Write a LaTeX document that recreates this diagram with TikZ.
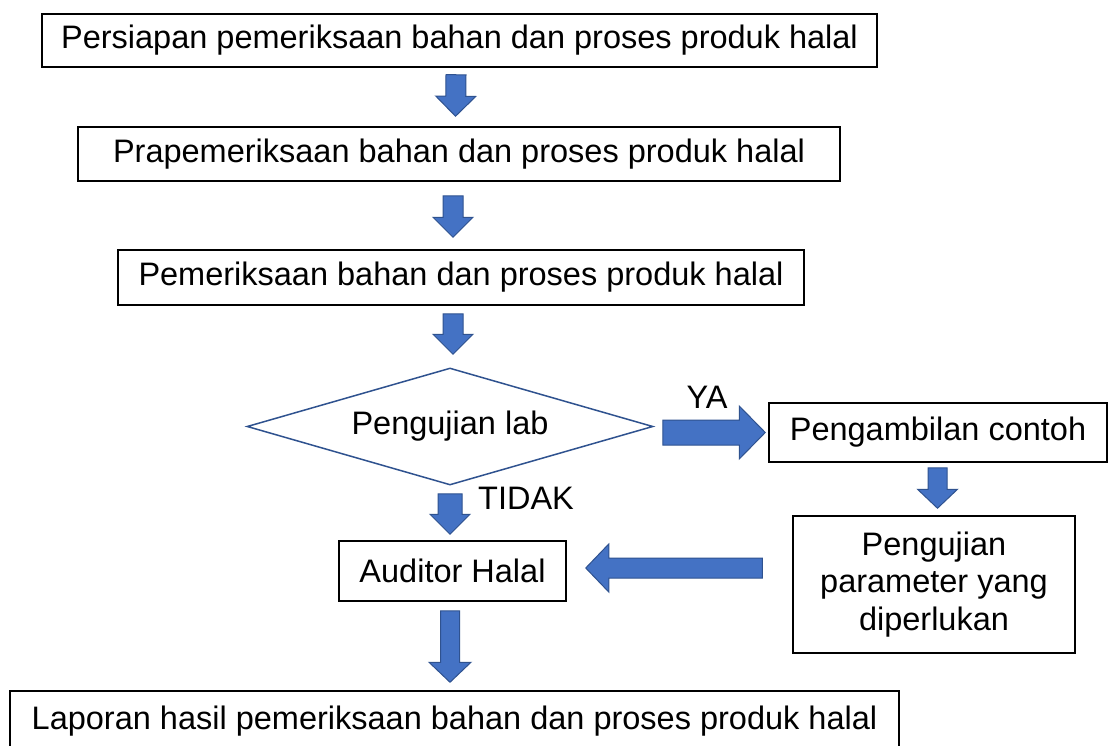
\documentclass[tikz,border=0pt]{standalone}
\usepackage{fontspec}
\setmainfont{Liberation Sans}
\usetikzlibrary{shapes.geometric,calc}
\definecolor{afill}{HTML}{4472C4}
\definecolor{aline}{HTML}{2F528F}
\newcommand\barrow[5]{% #1 tail, #2 tip, #3 shaft half width, #4 head half width, #5 head length
  \draw[blockarrow] ($(#1)!#3!90:(#2)$) -- ($(#2)!#5!(#1)!#3!90:(#2)$) -- ($(#2)!#5!(#1)!#4!90:(#2)$) -- (#2)
    -- ($(#2)!#5!(#1)!#4!-90:(#2)$) -- ($(#2)!#5!(#1)!#3!-90:(#2)$) -- ($(#1)!#3!-90:(#2)$) -- cycle;}
\begin{document}
\begin{tikzpicture}[x=1pt,y=-1pt,
  txt/.style={font=\fontsize{32.5}{37.5}\selectfont},
  box/.style={txt,draw=black,line width=1.5pt,inner sep=0pt,align=center},
  dec/.style={txt,draw=aline,line width=1.5pt,shape=diamond,aspect=3.47,inner sep=0pt},
  blockarrow/.style={fill=afill,draw=aline,line width=1pt,line join=miter},
  lbl/.style={txt,inner sep=0pt}]
\useasboundingbox (0,0) rectangle (1110,746);
\fill[white] (0,0) rectangle (1110,746);

\node[box,minimum width=835,minimum height=53] (b1) at (459.5,40.5) {Persiapan pemeriksaan bahan dan proses produk halal};
\node[box,minimum width=762,minimum height=54] (b2) at (459,154) {Prapemeriksaan bahan dan proses produk halal};
\node[box,minimum width=686,minimum height=55] (b3) at (461,277.5) {Pemeriksaan bahan dan proses produk halal};
\node[dec,minimum width=406,minimum height=117] (dia) at (450,426.5) {Pengujian lab};
\node[box,minimum width=338,minimum height=59] (b5) at (938,432.5) {Pengambilan contoh};
\node[box,minimum width=282,minimum height=137] (b6) at (934,584.5) {Pengujian\\parameter yang\\diperlukan};
\node[box,minimum width=227,minimum height=60] (b7) at (452.5,571) {Auditor Halal};
\node[box,minimum width=889,minimum height=60] (b8) at (454.5,721) {Laporan hasil pemeriksaan bahan dan proses produk halal};

\coordinate (a1s) at ($(b1.south)+(-3.5,7)$);
\coordinate (a1e) at ($(b2.north)+(-3.5,-10)$);
\coordinate (a2s) at ($(b2.south)+(-6,14)$);
\coordinate (a2e) at ($(b3.north)+(-8,-12)$);
\coordinate (a3s) at ($(b3.south)+(-8,8)$);
\coordinate (a3e) at ($(dia.north)+(3,-13)$);
\coordinate (a4s) at ($(dia.south)+(0,8)$);
\coordinate (a4e) at ($(b7.north)+(-2.5,-6)$);
\coordinate (a5s) at ($(dia.east)+(9,6)$);
\coordinate (a5e) at ($(b5.west)+(-3,0)$);
\coordinate (a6s) at ($(b5.south)+(-0.5,5)$);
\coordinate (a6e) at ($(b6.north)+(3.5,-7)$);
\coordinate (a7s) at ($(b6.west)+(-30,-16.5)$);
\coordinate (a7e) at ($(b7.east)+(19,-3)$);
\coordinate (a8s) at ($(b7.south)+(-2.5,9)$);
\coordinate (a8e) at ($(b8.north)+(-4.5,-8)$);

\barrow{a1s}{a1e}{10pt}{20pt}{20pt}
\barrow{a2s}{a2e}{10pt}{20pt}{20pt}
\barrow{a3s}{a3e}{10pt}{20pt}{20pt}
\barrow{a4s}{a4e}{12pt}{20pt}{20pt}
\barrow{a5s}{a5e}{12.5pt}{26.5pt}{26pt}
\barrow{a6s}{a6e}{9.5pt}{20pt}{19pt}
\barrow{a7s}{a7e}{10pt}{24pt}{23pt}
\barrow{a8s}{a8e}{9.5pt}{21pt}{20pt}

\node[lbl] (ya) at (707,397) {YA};
\node[lbl,anchor=west] (tidak) at (478,498) {TIDAK};
\end{tikzpicture}
\end{document}
